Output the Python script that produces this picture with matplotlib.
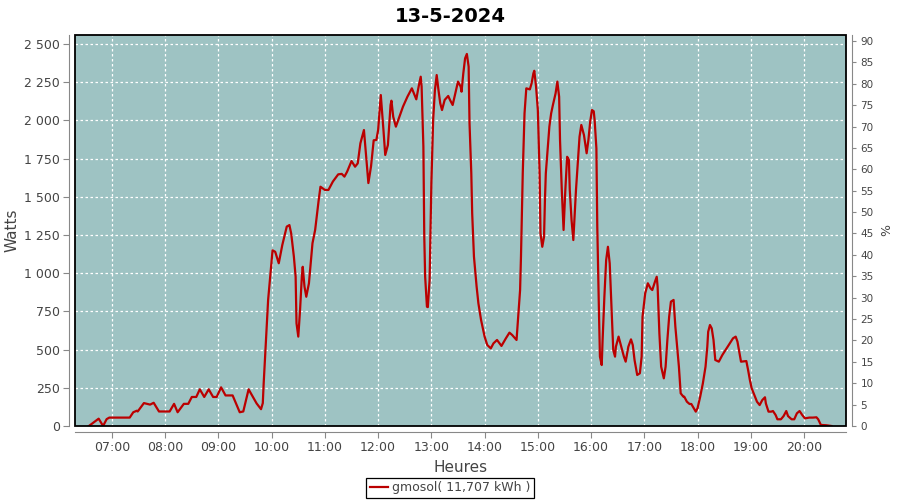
import matplotlib
matplotlib.use("Agg")
import matplotlib.pyplot as plt
import matplotlib.dates as mdates
from matplotlib.patches import Rectangle
from matplotlib.ticker import FuncFormatter, MultipleLocator
import pandas as pd

# data (time, watts)
times_morning = ["06:34", "06:45", "06:50", "06:54", "06:57", "07:11", "07:20", "07:24", "07:28", "07:29",
                 "07:36", "07:43", "07:47", "07:53", "08:05", "08:10", "08:14", "08:21", "08:26", "08:30",
                 "08:35", "08:39", "08:44", "08:49", "08:54", "08:58", "09:03", "09:08", "09:16", "09:24",
                 "09:28", "09:34", "09:43", "09:48", "09:50", "09:51", "09:53", "09:56", "09:59"]
watts_morning = [0, 48, 0, 45, 55, 55, 55, 90, 100, 95,
                 150, 140, 152, 95, 95, 145, 90, 145, 145, 190,
                 190, 240, 190, 240, 190, 190, 253, 200, 200, 90,
                 95, 240, 148, 110, 150, 280, 500, 825, 1020]

times_midday = ["10:01", "10:04", "10:08", "10:12", "10:17", "10:20", "10:22", "10:25", "10:27", "10:28",
                "10:30", "10:32", "10:34", "10:35", "10:37", "10:39", "10:42", "10:44", "10:46", "10:49",
                "10:51", "10:53", "10:55", "11:00", "11:04", "11:09", "11:15", "11:19", "11:22", "11:25",
                "11:30", "11:34", "11:37", "11:40", "11:44", "11:46", "11:49", "11:52", "11:55", "11:58",
                "12:00", "12:03", "12:06", "12:08", "12:11", "12:14", "12:15", "12:17", "12:20", "12:24",
                "12:28", "12:33", "12:38", "12:41", "12:43", "12:46", "12:48", "12:49", "12:51", "12:52",
                "12:53", "12:55", "12:56", "12:58", "13:00", "13:02", "13:04", "13:06", "13:08", "13:10",
                "13:12", "13:15", "13:19", "13:21", "13:24", "13:27", "13:30", "13:33", "13:34", "13:36",
                "13:38", "13:40", "13:42", "13:43", "13:45", "13:46", "13:48", "13:51", "13:53", "13:56"]
watts_midday = [1150, 1140, 1065, 1185, 1305, 1315, 1260, 1110, 977, 672,
                585, 760, 977, 1042, 912, 846, 934, 1065, 1196, 1283,
                1381, 1479, 1566, 1545, 1545, 1600, 1647, 1650, 1632, 1664,
                1734, 1697, 1719, 1850, 1937, 1800, 1590, 1700, 1870, 1872,
                1937, 2166, 1937, 1774, 1839, 2101, 2129, 2024, 1959, 2024,
                2090, 2155, 2210, 2166, 2138, 2232, 2286, 2221, 1828, 1239,
                977, 781, 778, 955, 1588, 2003, 2199, 2297, 2199, 2112,
                2068, 2134, 2160, 2134, 2101, 2177, 2254, 2221, 2188, 2308,
                2406, 2435, 2352, 1981, 1654, 1392, 1108, 912, 803, 694]

times_afternoon = ["14:00", "14:03", "14:07", "14:10", "14:14", "14:19", "14:24", "14:28", "14:31", "14:36",
                   "14:38", "14:40", "14:41", "14:42", "14:43", "14:45", "14:47", "14:51", "14:53", "14:55",
                   "14:56", "14:58", "15:00", "15:02", "15:03", "15:05", "15:07", "15:08", "15:09", "15:11",
                   "15:13", "15:15", "15:17", "15:20", "15:22", "15:24", "15:25", "15:27", "15:29", "15:31",
                   "15:33", "15:35", "15:36", "15:38", "15:40", "15:41", "15:43", "15:45", "15:47", "15:49",
                   "15:52", "15:55", "15:57", "15:59", "16:01", "16:03", "16:04", "16:06", "16:07", "16:08",
                   "16:09", "16:10", "16:12", "16:13", "16:15", "16:17", "16:19", "16:21", "16:23", "16:25",
                   "16:27", "16:28", "16:31", "16:34", "16:37", "16:39", "16:42", "16:45", "16:47", "16:49",
                   "16:52", "16:55", "16:57", "16:58"]
watts_afternoon = [585, 530, 508, 541, 563, 524, 574, 611, 596, 563,
                   726, 890, 1108, 1370, 1654, 2046, 2210, 2203, 2243, 2308,
                   2325, 2221, 2068, 1654, 1261, 1173, 1239, 1479, 1654, 1806,
                   1959, 2046, 2101, 2177, 2254, 2155, 1872, 1545, 1283, 1545,
                   1762, 1741, 1545, 1348, 1217, 1326, 1545, 1719, 1893, 1970,
                   1904, 1785, 1872, 1991, 2068, 2060, 2003, 1817, 1305, 999,
                   715, 454, 399, 563, 846, 1086, 1173, 1065, 781, 497,
                   454, 519, 585, 519, 454, 421, 519, 567, 530, 432,
                   334, 345, 454, 715]

times_evening = ["17:01", "17:04", "17:07", "17:09", "17:12", "17:14", "17:15", "17:17", "17:19", "17:22",
                 "17:24", "17:26", "17:28", "17:30", "17:33", "17:35", "17:37", "17:39", "17:41", "17:44",
                 "17:45", "17:48", "17:51", "17:53", "17:58", "18:00", "18:03", "18:06", "18:09", "18:11",
                 "18:12", "18:14", "18:16", "18:18", "18:20", "18:24", "18:28", "18:34", "18:40", "18:43",
                 "18:45", "18:47", "18:49", "18:55", "18:57", "18:59", "19:01", "19:04", "19:07", "19:10",
                 "19:13", "19:16", "19:17", "19:20", "19:23", "19:25", "19:28", "19:30", "19:34", "19:37",
                 "19:40", "19:42", "19:46", "19:49", "19:52", "19:55", "19:58", "20:01", "20:06", "20:10",
                 "20:14", "20:16", "20:19", "20:25", "20:31"]
watts_evening = [868, 934, 901, 890, 944, 977, 912, 606, 388, 312,
                 388, 563, 715, 814, 825, 650, 519, 388, 214, 192,
                 192, 159, 144, 144, 94, 116, 192, 279, 388, 519,
                 617, 661, 639, 563, 432, 421, 465, 519, 574, 585,
                 552, 486, 421, 425, 366, 301, 247, 203, 159, 137,
                 170, 188, 148, 94, 94, 98, 72, 44, 44, 65,
                 98, 65, 44, 44, 83, 98, 72, 50, 55, 55,
                 57, 44, 7, 5, 0]

day = "2024-05-13 "
times = times_morning + times_midday + times_afternoon + times_evening
watts = watts_morning + watts_midday + watts_afternoon + watts_evening
t = pd.to_datetime([day + s for s in times])

txt = "#444444"
axcol = "#888888"

fig = plt.figure(figsize=(9, 5), dpi=100)
ax = fig.add_axes([75 / 900, 1 - 426 / 500, 771 / 900, 391 / 500])
ax.set_facecolor("#9ec3c3")

ax.plot(t, watts, color="#bb0000", lw=1.6, zorder=3)

ax.set_xlim(pd.Timestamp(day + "06:18:20"), pd.Timestamp(day + "20:47:20"))
ax.set_ylim(0, 2559)
ax.xaxis.set_major_locator(mdates.HourLocator(byhour=range(7, 21)))
ax.xaxis.set_major_formatter(mdates.DateFormatter("%H:%M"))
ax.yaxis.set_major_locator(MultipleLocator(250))
ax.yaxis.set_major_formatter(FuncFormatter(lambda v, p: f"{int(v):,}".replace(",", " ")))

ax.grid(True, color="white", ls=(0, (2, 2)), lw=0.9)
ax.set_axisbelow(True)

for s in ["top", "right"]:
    ax.spines[s].set_visible(False)
for s in ["left", "bottom"]:
    ax.spines[s].set_position(("outward", 4))
    ax.spines[s].set_color(axcol)
ax.tick_params(colors=axcol, labelcolor=txt, labelsize=9, length=4, pad=3)
ax.add_patch(Rectangle((0, 0), 1, 1, transform=ax.transAxes, fill=False,
                       ec="black", lw=1.3, zorder=5, clip_on=False))

ax.set_ylabel("Watts", fontsize=11, color=txt)
ax.yaxis.set_label_coords(-0.072, 0.5)
ax.set_xlabel("Heures", fontsize=11, color=txt)
ax.xaxis.set_label_coords(0.5, -0.087)

ax2 = ax.twinx()
ax2.set_ylim(0, 91.4)
ax2.yaxis.set_major_locator(MultipleLocator(5))
for s in ["top", "left", "bottom"]:
    ax2.spines[s].set_visible(False)
ax2.spines["right"].set_position(("outward", 4))
ax2.spines["right"].set_color(axcol)
ax2.tick_params(colors=axcol, labelcolor=txt, labelsize=7.5, length=3)
ax2.set_ylabel("%", fontsize=9, color=txt)
ax2.yaxis.set_label_coords(1.044, 0.5)

fig.suptitle("13-5-2024", fontsize=14, fontweight="bold", y=0.985)

leg = fig.legend(ax.get_lines(), ["gmosol( 11,707 kWh )"], loc="center",
                 bbox_to_anchor=(0.5, 1 - 488 / 500), fancybox=False,
                 edgecolor="black", fontsize=9, handlelength=1.5,
                 handletextpad=0.3, borderpad=0.3, framealpha=1)
for tx in leg.get_texts():
    tx.set_color(txt)
leg.get_frame().set_linewidth(0.9)

fig.savefig("out.png", dpi=100)
